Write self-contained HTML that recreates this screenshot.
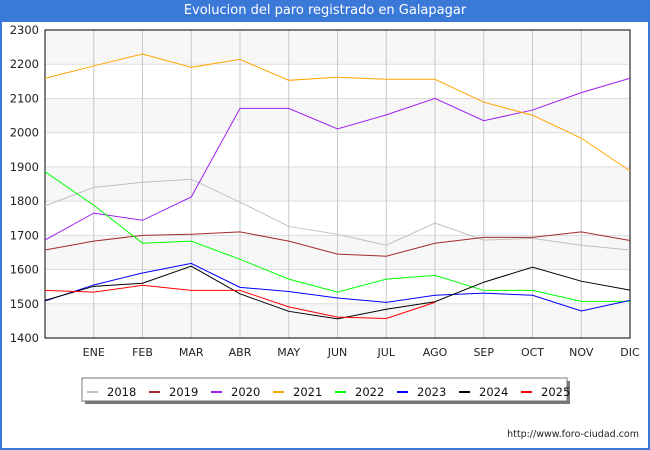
<!DOCTYPE html>
<html><head><meta charset="utf-8"><style>
body{margin:0;background:#fff}
#wrap{position:relative;width:650px;height:450px;box-sizing:border-box;border:2px solid #3b79d9;border-top:none;font-family:"DejaVu Sans","Liberation Sans",sans-serif}
#title{position:absolute;left:-2px;top:0;width:650px;height:22px;background:#3b79d9;color:#fff;font-size:13px;text-align:center;line-height:22px}
svg{position:absolute;left:-2px;top:0}
</style></head><body>
<div id="wrap">
<div id="title">Evolucion del paro registrado en Galapagar</div>
<svg id="c" width="650" height="450"></svg>
</div>
<script>
const months=["","ENE","FEB","MAR","ABR","MAY","JUN","JUL","AGO","SEP","OCT","NOV","DIC"];
const yTicks=[1400,1500,1600,1700,1800,1900,2000,2100,2200,2300];
const years=["2018","2019","2020","2021","2022","2023","2024","2025"];
const colors=["#c0c0c0","#a52a2a","#a020f0","#ffa500","#00ff00","#0000ff","#000000","#ff0000"];
const s2018=[1786,1840,1855,1864,1797,1726,1703,1671,1736,1686,1691,1671,1657];
const s2019=[1657,1683,1700,1703,1710,1683,1645,1639,1677,1694,1694,1710,1685];
const s2020=[1686,1765,1744,1812,2071,2071,2011,2052,2100,2035,2066,2117,2159];
const s2021=[2159,2195,2230,2191,2214,2153,2162,2156,2156,2089,2051,1984,1888];
const s2022=[1886,1788,1677,1683,1630,1572,1534,1572,1583,1539,1539,1507,1507];
const s2023=[1508,1555,1590,1618,1548,1536,1517,1504,1525,1531,1525,1479,1510];
const s2024=[1510,1551,1560,1610,1529,1478,1456,1484,1506,1563,1607,1566,1540];
const s2025=[1539,1534,1554,1539,1539,1491,1461,1457,1504];
const series=[s2018,s2019,s2020,s2021,s2022,s2023,s2024,s2025];
const X0=45,X1=630,Y0=30,Y1=338,VMIN=1400,VMAX=2300;
const xs=i=>X0+i*(X1-X0)/(months.length-1);
const ys=v=>Y1-(v-VMIN)*(Y1-Y0)/(VMAX-VMIN);
const svg=document.getElementById('c');const NS="http://www.w3.org/2000/svg";
function mk(t,a,p){const e=document.createElementNS(NS,t);for(const k in a)e.setAttribute(k,a[k]);(p||svg).appendChild(e);return e;}
for(let i=0;i<yTicks.length-1;i++){
 if(i%2===0){const r=mk('rect',{x:X0,y:ys(yTicks[i+1]),width:X1-X0,height:ys(yTicks[i])-ys(yTicks[i+1]),fill:'#f7f7f7'});
 
 }
}
yTicks.forEach(v=>{const l=mk('line',{x1:X0,x2:X1,y1:ys(v),y2:ys(v),stroke:'#dddddd'});


const t=mk('text',{x:X0-6,y:ys(v)+4,'text-anchor':'end','font-size':'11.5',fill:'#222'});t.textContent=v;

});
months.forEach((m,i)=>{if(i===0)return;const l=mk('line',{x1:xs(i),x2:xs(i),y1:Y0,y2:Y1,stroke:'#c8c8c8'});


const t=mk('text',{x:xs(i),y:Y1+18,'text-anchor':'middle','font-size':'11',fill:'#222'});t.textContent=m;

});
const fr=mk('rect',{x:X0,y:Y0,width:X1-X0,height:Y1-Y0,fill:'none',stroke:'#000'});


series.forEach((s,k)=>{const p=mk('polyline',{points:s.map((v,i)=>xs(i)+','+ys(v)).join(' '),fill:'none',stroke:colors[k],'stroke-width':1});

});
const sh=mk('rect',{x:85,y:381,width:485,height:23,fill:'#777'});


const lg=mk('rect',{x:82,y:378,width:485,height:23,fill:'#fff',stroke:'#777'});


years.forEach((y,k)=>{const x=87+k*62;
const sw=mk('line',{x1:x,x2:x+11,y1:392,y2:392,stroke:colors[k],'stroke-width':2});


const t=mk('text',{x:x+20,y:396,'font-size':'11.5',fill:'#111'});t.textContent=y;

});
const u=mk('text',{x:639,y:437,'text-anchor':'end','font-size':'9.5',fill:'#222'});u.textContent='http://www.foro-ciudad.com';


</script>
</body></html>
